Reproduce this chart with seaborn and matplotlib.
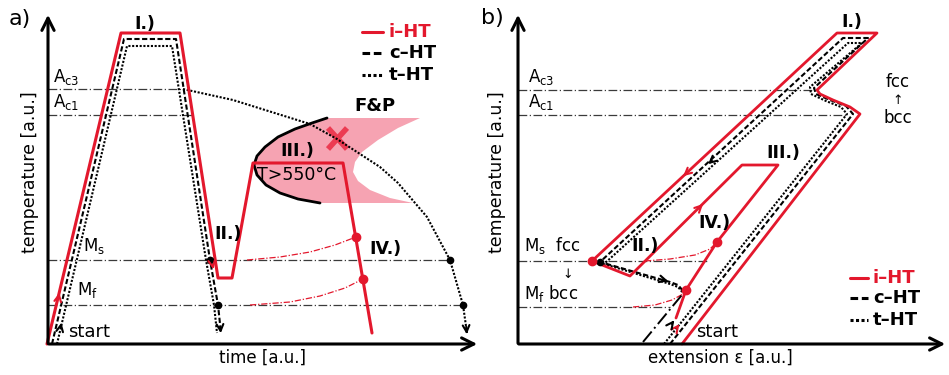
import numpy as np
import pandas as pd
import seaborn as sns
import matplotlib.pyplot as plt

# Schematic, in pixel units (y grows downwards)
RED = "#e3182d"
PINK = "#f6a3b2"
GREY = "#3a3a3a"

# ---------------- panel a) temperature vs time ----------------
A_IHT_X = [47, 121, 180, 218, 232, 253, 343, 372]
A_IHT_Y = [344, 33, 33, 278, 278, 163, 163, 333]
A_CHT_X = [52, 124, 176, 210, 218, 221]
A_CHT_Y = [344, 39, 39, 260, 305, 333]
A_THT_X = [57, 127, 172, 206, 214, 217]
A_THT_Y = [344, 46, 46, 260, 305, 333]
A_ARC_X = [183, 233, 310, 337, 380, 398, 427, 450, 463, 467]
A_ARC_Y = [89, 100, 124, 139, 167, 183, 217, 260, 305, 333]

A_REF_Y = [89, 115, 260, 305]          # Ac3, Ac1, Ms, Mf
A_REF_END = [183, 193, 450, 463]
A_MS_CURVE_X = [247, 280, 310, 335, 356]
A_MS_CURVE_Y = [260, 257, 252, 245, 237]
A_MF_CURVE_X = [250, 290, 320, 345, 363]
A_MF_CURVE_Y = [305, 302, 296, 288, 279]
A_BLACK_DOTS = [(210, 260), (218, 305), (450, 260), (463, 305)]
A_RED_DOTS = [(356, 237), (363, 279)]

FP_NOSE_X = [327, 312, 295, 278, 265, 257, 254, 257, 266, 280, 298, 320]
FP_NOSE_Y = [118, 123, 129, 137, 147, 156, 165, 175, 185, 193, 199, 203]
FP_NOTCH_X = [413, 390, 370, 358, 353, 355, 362, 378, 398, 420]
FP_NOTCH_Y = [203, 198, 190, 181, 172, 162, 152, 140, 128, 118]
FP_CROSS = [((328, 128), (347, 149)), ((347, 128), (328, 149))]

# ---------------- panel b) temperature vs extension ----------------
B_IHT_X = [682, 860, 850, 833, 820, 817, 877, 837, 592, 630, 742, 778, 717, 686, 676]
B_IHT_Y = [344, 114, 107, 100, 94, 90, 33, 33, 261, 276, 165, 165, 242, 290, 318]
B_CHT_X = [670, 853, 846, 830, 816, 814, 868, 843, 600, 670, 678, 684]
B_CHT_Y = [344, 114, 106, 100, 94, 88, 38, 38, 262, 282, 285, 292]
B_THT_X = [664, 847, 841, 826, 811, 810, 862, 848, 604, 670, 678, 684]
B_THT_Y = [344, 114, 107, 101, 94, 87, 43, 43, 264, 284, 287, 294]
B_BCC_X = [643, 686]
B_BCC_Y = [342, 290]

B_REF_Y = [90, 115, 261, 307]
B_REF_END = [813, 847, 707, 670]
B_MS_CURVE_X = [645, 670, 695, 710, 717]
B_MS_CURVE_Y = [261, 259, 255, 249, 242]
B_MF_CURVE_X = [633, 655, 672, 683, 686]
B_MF_CURVE_Y = [307, 305, 300, 294, 290]
B_BLACK_DOTS = [(600, 262)]
B_RED_DOTS = [(592, 261), (717, 242), (686, 290)]

# arrow heads along the paths: (tail, tip, colour)
HEADS = [
    ((58, 300), (60, 290), RED), ((212, 262), (214, 272), RED),
    ((220, 324), (221, 336), "black"), ((60, 330), (62, 320), "black"),
    ((466, 324), (467, 337), "black"),
    ((689, 171), (681, 178), RED), ((714, 159), (706, 166), "black"),
    ((697, 210), (705, 202), RED), ((660, 279), (671, 282), "black"),
    ((675, 330), (681, 322), RED), ((670, 326), (676, 318), "black"),
]
AXES = [((48, 346), (48, 12)), ((46, 344), (480, 344)),
        ((518, 346), (518, 12)), ((516, 344), (948, 344))]

LEGEND_LABELS = ["i\u2013HT", "c\u2013HT", "t\u2013HT"]
LEGEND_STYLES = ["-", (0, (2.5, 1.2)), (0, (1, 0.8))]
LEGEND_COLORS = [RED, "black", "black"]
LEGEND_A_Y = [32, 53, 75]
LEGEND_B_Y = [278, 298, 320]


def trace(ax, xs, ys, **kw):
    df = pd.DataFrame({"x": xs, "y": ys})
    sns.lineplot(data=df, x="x", y="y", sort=False, estimator=None, ax=ax, **kw)


sns.set_style("white")
plt.rcParams["font.family"] = ["DejaVu Sans"]
plt.rcParams["text.color"] = "black"

fig = plt.figure(figsize=(9.49, 3.75), dpi=100)
ax = fig.add_axes([0, 0, 1, 1])
ax.set_xlim(0, 949)
ax.set_ylim(375, 0)
ax.axis("off")

dashdot = (0, (7, 2, 1, 2))
dash = (0, (2.5, 1.2))
dot = (0, (1, 0.8))

# reference lines
for y, x1 in zip(A_REF_Y, A_REF_END):
    ax.plot([48, x1], [y, y], color=GREY, lw=0.9, ls=dashdot)
for y, x1 in zip(B_REF_Y, B_REF_END):
    ax.plot([518, x1], [y, y], color=GREY, lw=0.9, ls=dashdot)

# F&P nose
ax.fill(FP_NOSE_X + FP_NOTCH_X, FP_NOSE_Y + FP_NOTCH_Y, color=PINK, lw=0)
trace(ax, FP_NOSE_X, FP_NOSE_Y, color="black", lw=2)
for (p, q) in FP_CROSS:
    ax.plot([p[0], q[0]], [p[1], q[1]], color="#ec3b52", lw=4, solid_capstyle="butt")

# thin transformation curves
for xs, ys in [(A_MS_CURVE_X, A_MS_CURVE_Y), (A_MF_CURVE_X, A_MF_CURVE_Y),
               (B_MS_CURVE_X, B_MS_CURVE_Y), (B_MF_CURVE_X, B_MF_CURVE_Y)]:
    trace(ax, xs, ys, color=RED, lw=0.9, linestyle=(0, (5, 1.5, 1, 1.5)))

# heat treatment paths
trace(ax, A_THT_X, A_THT_Y, color="black", lw=1.5, linestyle=dot)
trace(ax, A_CHT_X, A_CHT_Y, color="black", lw=1.5, linestyle=dash)
trace(ax, A_ARC_X, A_ARC_Y, color="black", lw=1.5, linestyle=dot)
trace(ax, A_IHT_X, A_IHT_Y, color=RED, lw=2.2)

trace(ax, B_THT_X, B_THT_Y, color="black", lw=1.5, linestyle=dot)
trace(ax, B_CHT_X, B_CHT_Y, color="black", lw=1.5, linestyle=dash)
trace(ax, B_BCC_X, B_BCC_Y, color="black", lw=1.4, linestyle=dashdot)
trace(ax, B_IHT_X, B_IHT_Y, color=RED, lw=2)

for x, y in A_BLACK_DOTS + B_BLACK_DOTS:
    ax.plot(x, y, "o", color="black", ms=4.5)
for x, y in A_RED_DOTS + B_RED_DOTS:
    ax.plot(x, y, "o", color=RED, ms=6)

for tail, tip, c in HEADS:
    ax.annotate("", xy=tip, xytext=tail,
                arrowprops=dict(arrowstyle="->", color=c, lw=1.5, mutation_scale=12))
for tail, tip in AXES:
    ax.annotate("", xy=tip, xytext=tail,
                arrowprops=dict(arrowstyle="->", color="black", lw=2.2, mutation_scale=22))

# legends
for lab, st, c, ya, yb in zip(LEGEND_LABELS, LEGEND_STYLES, LEGEND_COLORS, LEGEND_A_Y, LEGEND_B_Y):
    ax.plot([362, 383], [ya, ya], color=c, ls=st, lw=2.2)
    ax.text(389, ya, lab, color=c, fontsize=13, fontweight="bold", va="center")
    ax.plot([850, 868], [yb, yb], color=c, ls=st, lw=2.2)
    ax.text(873, yb, lab, color=c, fontsize=13, fontweight="bold", va="center")

# text
fs = 12
ax.text(20, 19, "a)", fontsize=16, va="center", ha="center")
ax.text(492, 18, "b)", fontsize=16, va="center", ha="center")
ax.text(30, 172, "temperature [a.u.]", fontsize=12.5, rotation=90, va="center", ha="center")
ax.text(497, 172, "temperature [a.u.]", fontsize=12.5, rotation=90, va="center", ha="center")
ax.text(263, 358, "time [a.u.]", fontsize=12, va="center", ha="center")
ax.text(720, 358, "extension \u03b5 [a.u.]", fontsize=12, va="center", ha="center")

for x0 in (53, 528):
    ax.text(x0, 77, r"A$_\mathregular{c3}$", fontsize=fs, va="center")
    ax.text(x0, 102, r"A$_\mathregular{c1}$", fontsize=fs, va="center")
ax.text(83, 246, r"M$_\mathregular{s}$", fontsize=fs, va="center")
ax.text(77, 290, r"M$_\mathregular{f}$", fontsize=fs, va="center")
ax.text(524, 245, r"M$_\mathregular{s}$  fcc", fontsize=fs, va="center")
ax.text(568, 274, "\u2193", fontsize=9, va="center", ha="center")
ax.text(524, 294, r"M$_\mathregular{f}$ bcc", fontsize=fs, va="center")
ax.text(898, 82, "fcc", fontsize=fs, va="center", ha="center")
ax.text(898, 100, "\u2191", fontsize=9, va="center", ha="center")
ax.text(898, 118, "bcc", fontsize=fs, va="center", ha="center")

ax.text(68, 332, "start", fontsize=13, va="center")
ax.text(696, 332, "start", fontsize=13, va="center")

bold = dict(fontsize=12.5, fontweight="bold", va="center", ha="center")
ax.text(145, 24, "I.)", **bold)
ax.text(228, 234, "II.)", **bold)
ax.text(297, 151, "III.)", **bold)
ax.text(385, 249, "IV.)", **bold)
ax.text(375, 106, "F&P", fontsize=13, fontweight="bold", va="center", ha="center")
ax.text(297, 175, "T>550\u00b0C", fontsize=12.5, va="center", ha="center")
ax.text(852, 22, "I.)", **bold)
ax.text(783, 153, "III.)", **bold)
ax.text(645, 246, "II.)", **bold)
ax.text(714, 223, "IV.)", **bold)

fig.savefig("out.png", dpi=100)
